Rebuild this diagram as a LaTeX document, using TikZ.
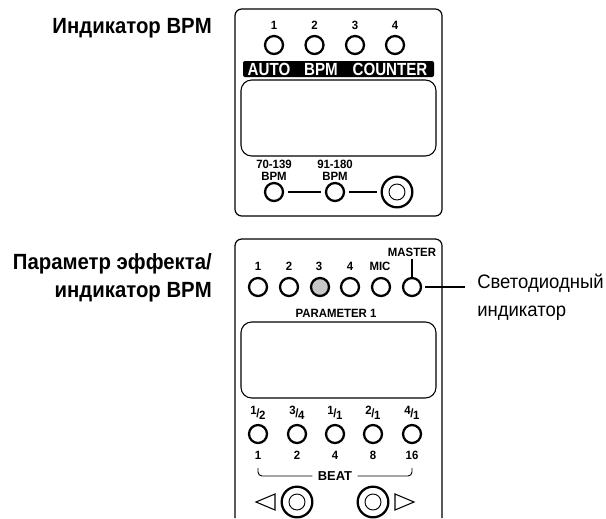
\documentclass[tikz,border=0pt]{standalone}
\usepackage{fontspec}
\setmainfont{Liberation Sans}
\usetikzlibrary{calc}

\tikzset{
  lamp/.style={circle,draw=black,line width=1.7pt,minimum size=13.5pt,inner sep=0pt},
  knobouter/.style={circle,draw=black,line width=1.7pt,minimum size=23pt,inner sep=0pt},
  knobinner/.style={circle,draw=black,line width=.7pt,minimum size=12pt,inner sep=0pt},
  small/.style={font=\bfseries\fontsize{9}{10}\selectfont,inner sep=0pt,xscale=.95,transform shape},
  invert/.style={white,font=\bfseries\fontsize{13.2}{14}\selectfont,inner sep=0pt,xscale=.86,transform shape},
  wire/.style={black,line width=.9pt},
  heading/.style={font=\bfseries\fontsize{16.5}{18}\selectfont,inner sep=0pt,anchor=base east,xscale=.925,transform shape},
  callout/.style={font=\fontsize{14.6}{16}\selectfont,inner sep=0pt,anchor=base west,xscale=.95,transform shape}
}
\newcommand{\frc}[2]{\raisebox{1.9pt}{#1}\kern-.3pt\raisebox{0pt}{/}\kern-.3pt\raisebox{-1.9pt}{#2}}

\begin{document}
\begin{tikzpicture}[x=.75pt,y=-.75pt]

\useasboundingbox (0,0) rectangle (606,518);

% headings
\node[heading] (headbpm) at (212,33) {Индикатор BPM};
\node[heading] (headparam) at (212,269) {Параметр эффекта/};
\node[heading] (headind) at (212,297) {индикатор BPM};

% upper panel
\draw[black,line width=.9pt,rounded corners=5pt] (235,9) rectangle (442,216);
\draw[black,line width=.8pt,rounded corners=8pt] (241,80) rectangle (436,156);
\fill[black,rounded corners=1.5pt] (243,61) rectangle (434,77);

\node[small] (up1) at (274,25) {1};
\node[small] (up2) at (314.5,25) {2};
\node[small] (up3) at (355,25) {3};
\node[small] (up4) at (395,25) {4};
\node[lamp] (lampa) at (274,45) {};
\node[lamp] (lampb) at (314.5,45) {};
\node[lamp] (lampc) at (355,45) {};
\node[lamp] (lampd) at (395,45) {};

\node[invert] (auto) at (269,69.5) {AUTO};
\node[invert] (bpm) at (321,69.5) {BPM};
\node[invert] (counter) at (390,69.5) {COUNTER};

\node[small] (slow) at (274,164) {70-139};
\node[small] (slowb) at (274,176) {BPM};
\node[small] (fast) at (335,164) {91-180};
\node[small] (fastb) at (335,176) {BPM};
\node[lamp] (lampslow) at (274,192) {};
\node[lamp] (lampfast) at (335,192) {};
\node[knobouter] (knobtap) at (397,192) {};
\node[knobinner] (knobtapin) at (397,192) {};
\draw[wire,shorten <=3pt,shorten >=3pt] (lampslow)--(lampfast);
\draw[wire,shorten <=3pt,shorten >=3pt] (lampfast)--(knobtap);

% lower panel
\draw[black,line width=.9pt,rounded corners=5pt] (235,518)--(235,239)--(442,239)--(442,518);
\draw[black,line width=.8pt,rounded corners=8pt] (241,322) rectangle (436,398);

\node[small] (lo1) at (258,266) {1};
\node[small] (lo2) at (289,266) {2};
\node[small] (lo3) at (319,266) {3};
\node[small] (lo4) at (350,266) {4};
\node[small] (lomic) at (380,266) {MIC};
\node[small] (lomaster) at (412,252) {MASTER};
\node[lamp] (parama) at (258,287) {};
\node[lamp] (paramb) at (289,287) {};
\node[lamp,fill=black!22] (paramc) at (320,287) {};
\node[lamp] (paramd) at (350,287) {};
\node[lamp] (parammic) at (381,287) {};
\node[lamp] (parammaster) at (412,287) {};
\draw[wire] (lomaster.south)++(0,2)--(parammaster.north);

\coordinate (leaderend) at (465,287);
\draw[wire,shorten <=2.5pt] (parammaster)--(leaderend);
\node[callout] (calla) at (477,288) {Светодиодный};
\node[callout] (callb) at (477,316) {индикатор};

\node[small] (paramtext) at (336,313) {PARAMETER 1};

\node[small] (fa) at (258,413) {\frc{1}{2}};
\node[small] (fb) at (297,413) {\frc{3}{4}};
\node[small] (fc) at (335,413) {\frc{1}{1}};
\node[small] (fd) at (373,413) {\frc{2}{1}};
\node[small] (fe) at (412,413) {\frc{4}{1}};
\node[lamp] (beata) at (258,434) {};
\node[lamp] (beatb) at (297,434) {};
\node[lamp] (beatc) at (335,434) {};
\node[lamp] (beatd) at (373,434) {};
\node[lamp] (beate) at (412,434) {};
\node[small] (na) at (258,455) {1};
\node[small] (nb) at (297,455) {2};
\node[small] (nc) at (335,455) {4};
\node[small] (nd) at (373,455) {8};
\node[small] (ne) at (412,455) {16};

\node[font=\bfseries\fontsize{9.7}{11}\selectfont,inner sep=0pt] (beat) at (335,476) {BEAT};
\coordinate (bracea) at (258,468);
\coordinate (braceb) at (412,468);
\draw[wire,line width=.7pt,rounded corners=3pt] (bracea)--(bracea|-beat)--([xshift=-4pt]beat.west);
\draw[wire,line width=.7pt,rounded corners=3pt] (braceb)--(braceb|-beat)--([xshift=4pt]beat.east);

\node[knobouter] (knobleft) at (297,502) {};
\node[knobinner] (knobleftin) at (297,502) {};
\node[knobouter] (knobright) at (373,502) {};
\node[knobinner] (knobrightin) at (373,502) {};
\draw[black,line width=.8pt] (256,502)--(275,494)--(275,510)--cycle;
\draw[black,line width=.8pt] (414,502)--(395,494)--(395,510)--cycle;

\end{tikzpicture}
\end{document}
